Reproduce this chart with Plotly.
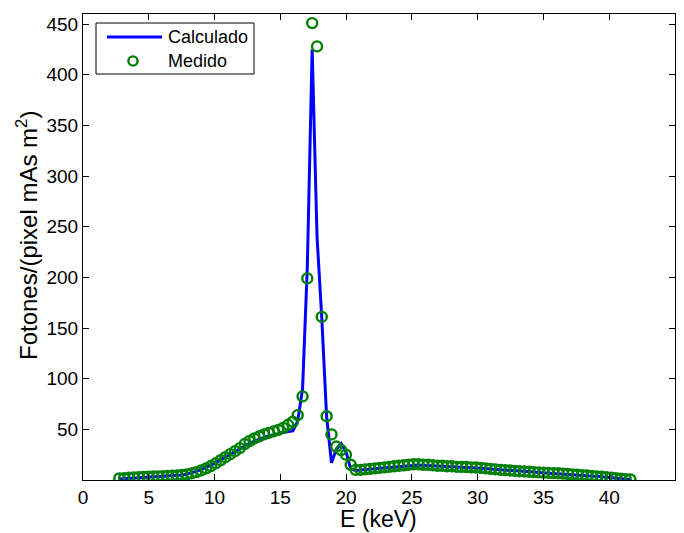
import plotly.graph_objects as go

# Energy bins (keV)
energia = [
    2.76, 3.13, 3.49, 3.86, 4.23, 4.59, 4.96, 5.33, 5.69, 6.06,
    6.43, 6.79, 7.16, 7.52, 7.89, 8.26, 8.62, 8.99, 9.36, 9.72,
    10.09, 10.46, 10.82, 11.19, 11.56, 11.92, 12.29, 12.66, 13.02, 13.39,
    13.76, 14.12, 14.49, 14.85, 15.22, 15.59, 15.95, 16.32, 16.69, 17.05,
    17.42, 17.79, 18.15, 18.52, 18.89, 19.25, 19.62, 19.99, 20.35, 20.72,
    21.09, 21.45, 21.82, 22.19, 22.55, 22.92, 23.29, 23.65, 24.02, 24.39,
    24.75, 25.12, 25.49, 25.85, 26.22, 26.59, 26.95, 27.32, 27.68, 28.05,
    28.42, 28.78, 29.15, 29.52, 29.88, 30.25, 30.62, 30.98, 31.35, 31.72,
    32.08, 32.45, 32.82, 33.18, 33.55, 33.92, 34.28, 34.65, 35.02, 35.38,
    35.75, 36.12, 36.48, 36.85, 37.21, 37.58, 37.95, 38.31, 38.68, 39.05,
    39.41, 39.78, 40.15, 40.51, 40.88, 41.25, 41.61,
]

# Computed spectrum
calculado = [
    1.0, 1.3, 1.6, 2.0, 2.3, 2.6, 2.9, 3.2, 3.4, 3.6,
    3.8, 4.0, 4.4, 5.0, 5.8, 7.0, 8.5, 10.3, 12.3, 14.6,
    17.2, 20.0, 23.0, 26.0, 28.8, 31.5, 34.0, 36.3, 38.4, 40.3,
    42.0, 43.5, 44.8, 46.0, 47.0, 47.8, 48.5, 58.0, 90.0, 210.0,
    425.0, 240.0, 160.0, 62.0, 17.0, 30.0, 36.0, 28.0, 11.0, 9.5,
    9.8, 10.2, 10.7, 11.2, 11.7, 12.2, 12.7, 13.2, 13.6, 14.0,
    14.4, 14.7, 14.8, 14.6, 14.4, 14.1, 13.8, 13.5, 13.2, 13.0,
    12.7, 12.5, 12.3, 12.0, 11.8, 11.5, 11.1, 10.7, 10.3, 9.9,
    9.6, 9.3, 9.0, 8.7, 8.4, 8.1, 7.8, 7.5, 7.2, 7.0,
    6.8, 6.5, 6.2, 5.9, 5.5, 5.1, 4.7, 4.3, 3.9, 3.5,
    3.1, 2.7, 2.2, 1.7, 1.2, 0.8, 0.4,
]

# Measured spectrum
medido = [
    1.5, 1.8, 2.2, 2.5, 2.8, 3.0, 3.2, 3.4, 3.6, 3.8,
    4.0, 4.2, 4.5, 5.0, 5.6, 6.5, 7.8, 9.5, 11.5, 13.8,
    16.5, 19.5, 22.5, 25.5, 28.5, 31.5, 35.5, 38.5, 41.0, 43.0,
    45.0, 46.5, 48.0, 49.5, 51.5, 54.5, 57.5, 64.0, 82.5, 199.0,
    451.0, 428.0, 161.0, 63.0, 45.0, 33.0, 29.5, 25.0, 15.0, 10.0,
    10.0, 10.5, 11.0, 11.5, 12.0, 12.5, 13.0, 13.5, 14.0, 14.5,
    15.0, 15.5, 15.5, 15.0, 15.0, 14.5, 14.0, 14.0, 13.5, 13.5,
    13.0, 13.0, 12.8, 12.5, 12.3, 12.0, 11.5, 11.0, 10.5, 10.0,
    9.7, 9.4, 9.0, 8.7, 8.4, 8.1, 7.8, 7.5, 7.2, 7.0,
    6.8, 6.6, 6.3, 6.0, 5.6, 5.2, 4.8, 4.4, 4.0, 3.6,
    3.2, 2.8, 2.3, 1.8, 1.3, 0.9, 0.5,
]

x_ticks = [0, 5, 10, 15, 20, 25, 30, 35, 40, 45]
y_ticks = [50, 100, 150, 200, 250, 300, 350, 400, 450]

FONT = "Liberation Sans, Arial, sans-serif"
BLUE = "#0000ff"
GREEN = "#008000"

fig = go.Figure()
fig.add_trace(go.Scatter(
    x=energia, y=calculado, mode="lines", name="Calculado",
    line=dict(color=BLUE, width=3), showlegend=False,
))
fig.add_trace(go.Scatter(
    x=energia, y=medido, mode="markers", name="Medido",
    marker=dict(symbol="circle-open", size=10, color=GREEN,
                line=dict(color=GREEN, width=2.4)),
    showlegend=False,
))

axis_common = dict(
    showgrid=False, zeroline=False, showline=True, linecolor="black",
    linewidth=1, mirror="ticks", ticks="inside", ticklen=6,
    tickcolor="black", tickfont=dict(family=FONT, size=19, color="black"),
)

fig.update_xaxes(
    range=[0, 45], tickvals=x_ticks, ticktext=[str(v) for v in x_ticks],
    **axis_common,
)
fig.update_yaxes(
    range=[0, 460], tickvals=y_ticks, ticktext=[str(v) for v in y_ticks],
    ticklabelstandoff=0,
    **axis_common,
)

# Pixel -> paper helpers for the fixed-size page
W, H = 684, 533
L, R, T, B = 83, 9, 14, 53
pw, ph = W - L - R, H - T - B


def px(xp):
    return (xp - L) / pw


def py(yp):
    return 1 - (yp - T) / ph


# Legend box in the upper-left corner of the axes
shapes = [
    dict(type="rect", xref="paper", yref="paper",
         x0=px(96), x1=px(254), y0=py(74), y1=py(23),
         line=dict(color="black", width=1), fillcolor="white", layer="above"),
    dict(type="line", xref="paper", yref="paper",
         x0=px(107), x1=px(162), y0=py(37), y1=py(37),
         line=dict(color=BLUE, width=3), layer="above"),
    dict(type="circle", xref="paper", yref="paper",
         xsizemode="pixel", ysizemode="pixel",
         xanchor=px(133), yanchor=py(61),
         x0=-4.6, x1=4.6, y0=-4.6, y1=4.6,
         line=dict(color=GREEN, width=2.4), layer="above"),
]
annotations = [
    dict(text="Calculado", xref="paper", yref="paper", x=px(166), y=py(37),
         xanchor="left", yanchor="middle", showarrow=False,
         font=dict(family=FONT, size=18, color="black")),
    dict(text="Medido", xref="paper", yref="paper", x=px(166), y=py(61),
         xanchor="left", yanchor="middle", showarrow=False,
         font=dict(family=FONT, size=18, color="black")),
    # axis titles
    dict(text="E (keV)", xref="paper", yref="paper", x=px(378), y=py(519),
         xanchor="center", yanchor="middle", showarrow=False,
         font=dict(family=FONT, size=23, color="black")),
    dict(text="Fotones/(pixel mAs m<sup>2</sup>)", xref="paper", yref="paper",
         x=px(27), y=py(236), textangle=-90,
         xanchor="center", yanchor="middle", showarrow=False,
         font=dict(family=FONT, size=24, color="black")),
]

fig.update_layout(
    width=W, height=H,
    margin=dict(l=L, r=R, t=T, b=B, autoexpand=False),
    paper_bgcolor="white", plot_bgcolor="white",
    shapes=shapes, annotations=annotations,
    showlegend=False,
)

fig.write_html("out.html")
